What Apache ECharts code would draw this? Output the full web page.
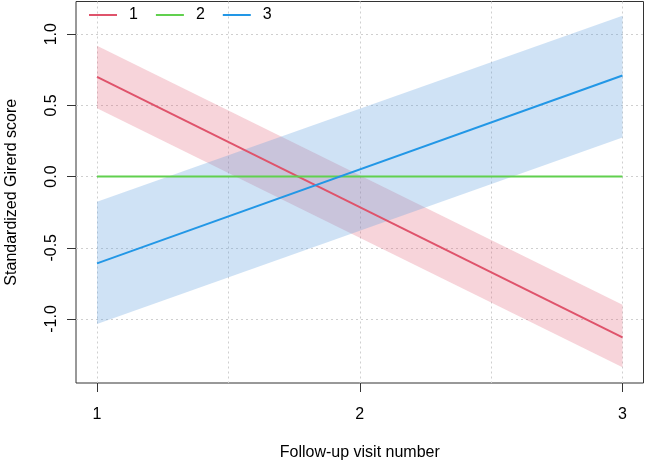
<!DOCTYPE html>
<html><head><meta charset="utf-8">
<script src="https://cdn.jsdelivr.net/npm/echarts@6/dist/echarts.min.js"></script>
<style>html,body{margin:0;padding:0;background:#fff}#c{width:645px;height:462px}</style>
</head><body><div id="c"></div>
<script>
// ---- data ----
const visits = [1, 3];
const groupNames = ['1', '2', '3'];
const fitRed = [0.70, -1.13];
const lowerRed = [0.48, -1.34];
const upperRed = [0.92, -0.90];
const fitGreen = [0, 0];
const fitBlue = [-0.61, 0.71];
const lowerBlue = [-1.035, 0.275];
const upperBlue = [-0.176, 1.13];
const xTickValues = [1, 2, 3];
const xTickLabels = ['1', '2', '3'];
const xGridValues = [1, 1.5, 2, 2.5, 3];
const yTickValues = [-1, -0.5, 0, 0.5, 1];
const yTickLabels = ['-1.0', '-0.5', '0.0', '0.5', '1.0'];

// ---- styling ----
const colors = ['#DF536B', '#61D04F', '#2297E6'];
const bandColors = ['rgba(223,83,107,0.25)', 'rgba(97,208,79,0.25)', 'rgba(95,158,222,0.3)'];
const font = "'Liberation Sans', Arial, Helvetica, sans-serif";

const pairs = (ys) => visits.map((x, i) => [x, ys[i]]);

function band(id, lo, hi, color) {
  return {
    type: 'custom', name: 'band' + id, silent: true,
    data: visits.map((x, i) => [x, lo[i], hi[i]]),
    encode: { x: 0, y: [1, 2] },
    renderItem: function (params, api) {
      const i = params.dataIndexInside;
      if (i >= params.dataInsideLength - 1) return null;
      const a1 = api.coord([api.value(0, i), api.value(1, i)]);
      const b1 = api.coord([api.value(0, i), api.value(2, i)]);
      const a2 = api.coord([api.value(0, i + 1), api.value(1, i + 1)]);
      const b2 = api.coord([api.value(0, i + 1), api.value(2, i + 1)]);
      return { type: 'polygon', shape: { points: [a1, a2, b2, b1] }, style: { fill: color } };
    }
  };
}
function fitLine(name, ys, color) {
  return { type: 'line', name: name, data: pairs(ys), symbol: 'none', color: color,
    lineStyle: { color: color, width: 2 } };
}

const series = [
  band('r', lowerRed, upperRed, bandColors[0]),
  fitLine(groupNames[0], fitRed, colors[0]),
  fitLine(groupNames[1], fitGreen, colors[1]),
  band('b', lowerBlue, upperBlue, bandColors[2]),
  fitLine(groupNames[2], fitBlue, colors[2])
];

const chart = echarts.init(document.getElementById('c'), null, { renderer: 'canvas' });
chart.setOption({
  animation: false,
  backgroundColor: '#fff',
  textStyle: { fontFamily: font },
  grid: { left: 76, right: 1.5, top: 1.5, bottom: 79, show: true, borderColor: '#333', borderWidth: 1,
    backgroundColor: 'transparent', containLabel: false, outerBoundsMode: 'none' },
  legend: {
    data: groupNames, left: 89, top: 7, padding: 0, itemWidth: 28, itemHeight: 16, itemGap: 18,
    textStyle: { fontFamily: font, fontSize: 16, color: '#000', padding: [0, 0, 0, 7] },
    icon: 'path://M0,7 L28,7 L28,9 L0,9 Z'
  },
  xAxis: [
    { type: 'value', min: 0.92, max: 3.08, position: 'bottom',
      name: 'Follow-up visit number', nameLocation: 'middle', nameGap: 62,
      nameTextStyle: { fontFamily: font, fontSize: 16, color: '#000' },
      axisLine: { show: false, onZero: false },
      axisTick: { show: true, customValues: xTickValues, length: 9, lineStyle: { color: '#333' } },
      axisLabel: { show: true, customValues: xTickValues, margin: 24, fontFamily: font, fontSize: 16, color: '#000',
        formatter: (v) => xTickLabels[xTickValues.indexOf(v)] },
      splitLine: { show: false } },
    { type: 'value', min: 0.92, max: 3.08, position: 'bottom',
      axisLine: { show: false, onZero: false },
      axisTick: { show: false, customValues: xGridValues },
      axisLabel: { show: false, customValues: xGridValues },
      splitLine: { show: true, lineStyle: { color: '#cfcfcf', type: [2, 3], width: 1 } } }
  ],
  yAxis: [
    { type: 'value', min: -1.45, max: 1.23,
      name: 'Standardized Girerd score', nameLocation: 'middle', nameGap: 56,
      nameTextStyle: { fontFamily: font, fontSize: 16, color: '#000' },
      axisLine: { show: false, onZero: false },
      axisTick: { show: true, customValues: yTickValues, length: 9, lineStyle: { color: '#333' } },
      axisLabel: { show: true, customValues: yTickValues, rotate: 90, margin: 16, fontFamily: font, fontSize: 16, color: '#000',
        formatter: (v) => yTickLabels[yTickValues.indexOf(v)] },
      splitLine: { show: true, lineStyle: { color: '#cfcfcf', type: [2, 3], width: 1 } } }
  ],
  series: series
});
</script></body></html>
